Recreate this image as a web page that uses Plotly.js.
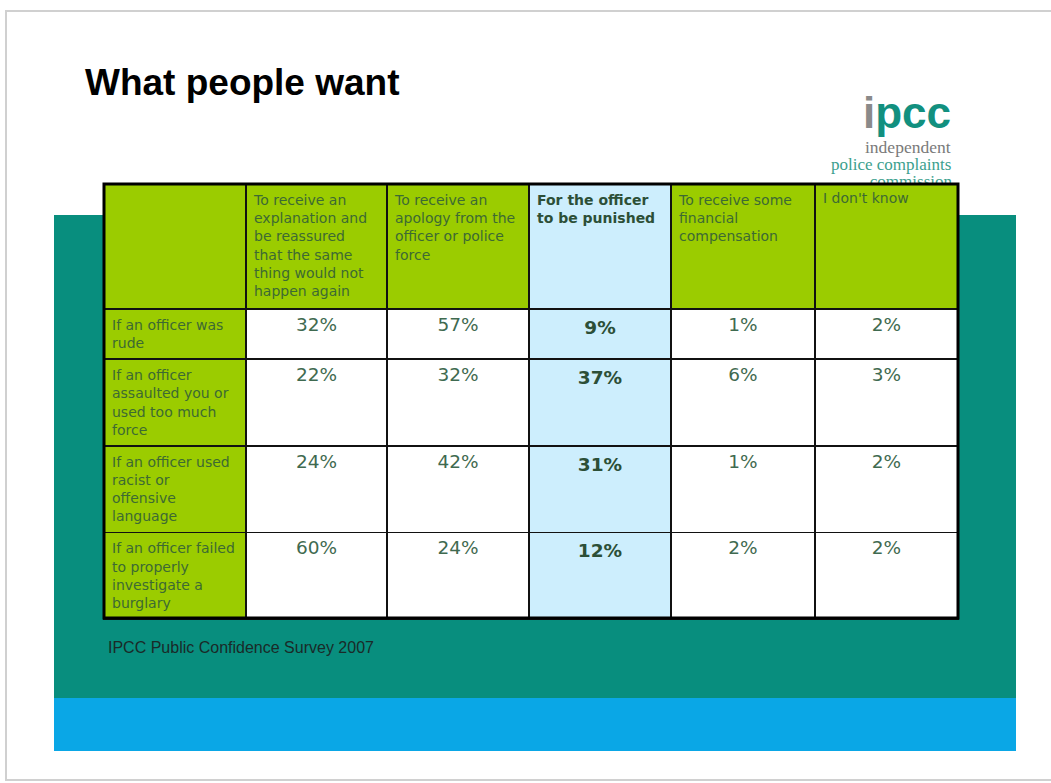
<!DOCTYPE html>
<html>
<head>
<meta charset="utf-8">
<script src="https://cdn.plot.ly/plotly-3.0.1.min.js"></script>
<style>html,body{margin:0;padding:0;background:#fff}#chart{width:1051px;height:783px}</style>
</head>
<body>
<div id="chart"></div>
<script>
// ---- data ----
const headerLabels = [
  "",
  "To receive an<br>explanation and<br>be reassured<br>that the same<br>thing would not<br>happen again",
  "To receive an<br>apology from the<br>officer or police<br>force",
  "<b>For the officer<br>to be punished</b>",
  "To receive some<br>financial<br>compensation",
  "I don't know"
];
const rowLabels = [
  "If an officer was<br>rude",
  "If an officer<br>assaulted you or<br>used too much<br>force",
  "If an officer used<br>racist or<br>offensive<br>language",
  "If an officer failed<br>to properly<br>investigate a<br>burglary"
];
const explanation  = [32, 22, 24, 60];
const apology      = [57, 32, 42, 24];
const punished     = [9, 37, 31, 12];
const compensation = [1, 6, 1, 2];
const dontKnow     = [2, 3, 2, 2];
const titleText = "What people want";
const sourceText = "IPCC Public Confidence Survey 2007";
const logoLines = ["independent", "police complaints", "commission"];

// ---- helpers ----
const W = 1051, H = 783;
const px = x => x / W;
const py = y => 1 - y / H;
const pct = arr => arr.map(v => v + "%");
const bold = arr => arr.map(v => "<b>" + v + "</b>");

const GREEN = "#9bcc00", BLUE = "#cdeefd", WHITE = "#ffffff";
const TXT = "#3f6a50";
const FONT = "DejaVu Sans, Verdana, sans-serif";

const table = {
  type: "table",
  domain: {x: [px(104), px(958)], y: [py(640), py(184)]},
  columnwidth: [142, 141, 142, 142, 144, 143],
  header: {
    values: headerLabels,
    align: "left",
    height: 125,
    fill: {color: [GREEN, GREEN, GREEN, BLUE, GREEN, GREEN]},
    line: {color: "#111", width: 1.5},
    font: {family: FONT, size: 14, color: ["#3d6a33", "#3d6a33", "#3d6a33", "#2c4f37", "#3d6a33", "#3d6a33"]}
  },
  cells: {
    values: [rowLabels, pct(explanation), pct(apology), bold(pct(punished)), pct(compensation), pct(dontKnow)],
    align: ["left", "center", "center", "center", "center", "center"],
    height: 49,
    fill: {color: [GREEN, WHITE, WHITE, BLUE, WHITE, WHITE]},
    line: {color: "#111", width: 1.5},
    font: {family: FONT,
           size: [14, 18.5, 18.5, 18.5, 18.5, 18.5],
           color: ["#3d6a33", TXT, TXT, "#2c4f37", TXT, TXT]}
  }
};

// logo "commission" line, partly hidden behind the table top (clipped by its own axis area)
const logoClip = {
  type: "scatter", mode: "text", xaxis: "x", yaxis: "y",
  x: [0.76], y: [0.0], text: [logoLines[2]],
  textposition: "middle left", cliponaxis: true, hoverinfo: "skip",
  textfont: {family: "Liberation Serif, Times New Roman, serif", size: 17, color: "#3c9f8e"}
};

const layout = {
  width: W, height: H,
  margin: {l: 0, r: 0, t: 0, b: 0},
  paper_bgcolor: "#ffffff",
  plot_bgcolor: "rgba(0,0,0,0)",
  showlegend: false,
  xaxis: {visible: false, domain: [px(800), px(1000)], range: [0, 1], fixedrange: true},
  yaxis: {visible: false, domain: [py(183), py(150)], range: [0, 1], fixedrange: true},
  shapes: [
    {type: "rect", xref: "paper", yref: "paper", x0: px(6), x1: px(1070), y0: py(780), y1: py(11),
     line: {color: "#d0d0d0", width: 2}, fillcolor: "rgba(0,0,0,0)", layer: "below"},
    {type: "rect", xref: "paper", yref: "paper", x0: px(54), x1: px(1016), y0: py(698), y1: py(215),
     line: {width: 0}, fillcolor: "#088e7e", layer: "below"},
    {type: "rect", xref: "paper", yref: "paper", x0: px(54), x1: px(1016), y0: py(751), y1: py(698),
     line: {width: 0}, fillcolor: "#0aa7e6", layer: "below"},
    {type: "rect", xref: "paper", yref: "paper", x0: px(104), x1: px(958), y0: py(618), y1: py(184),
     line: {color: "#000", width: 3}, fillcolor: "rgba(0,0,0,0)", layer: "above"}
  ],
  annotations: [
    {text: "<b>" + titleText + "</b>", xref: "paper", yref: "paper", x: px(83), y: py(82),
     xanchor: "left", yanchor: "middle", showarrow: false,
     font: {family: "Liberation Sans, Arial, sans-serif", size: 37, color: "#000"}},
    {text: '<b><span style="color:#8a8a8a">i</span>pcc</b>', xref: "paper", yref: "paper", x: px(953), y: py(112),
     xanchor: "right", yanchor: "middle", showarrow: false,
     font: {family: "Liberation Sans, Arial, sans-serif", size: 44, color: "#12907f"}},
    {text: logoLines[0], xref: "paper", yref: "paper", x: px(953), y: py(147),
     xanchor: "right", yanchor: "middle", showarrow: false,
     font: {family: "Liberation Serif, Times New Roman, serif", size: 17.5, color: "#7a7a7a"}},
    {text: logoLines[1], xref: "paper", yref: "paper", x: px(953), y: py(164),
     xanchor: "right", yanchor: "middle", showarrow: false,
     font: {family: "Liberation Serif, Times New Roman, serif", size: 17, color: "#3c9f8e"}},
    {text: sourceText, xref: "paper", yref: "paper", x: px(106), y: py(647),
     xanchor: "left", yanchor: "middle", showarrow: false,
     font: {family: "Liberation Sans, Arial, sans-serif", size: 16, color: "#1a2a28"}}
  ]
};

Plotly.newPlot("chart", [logoClip, table], layout, {displayModeBar: false, staticPlot: true});
</script>
</body>
</html>
